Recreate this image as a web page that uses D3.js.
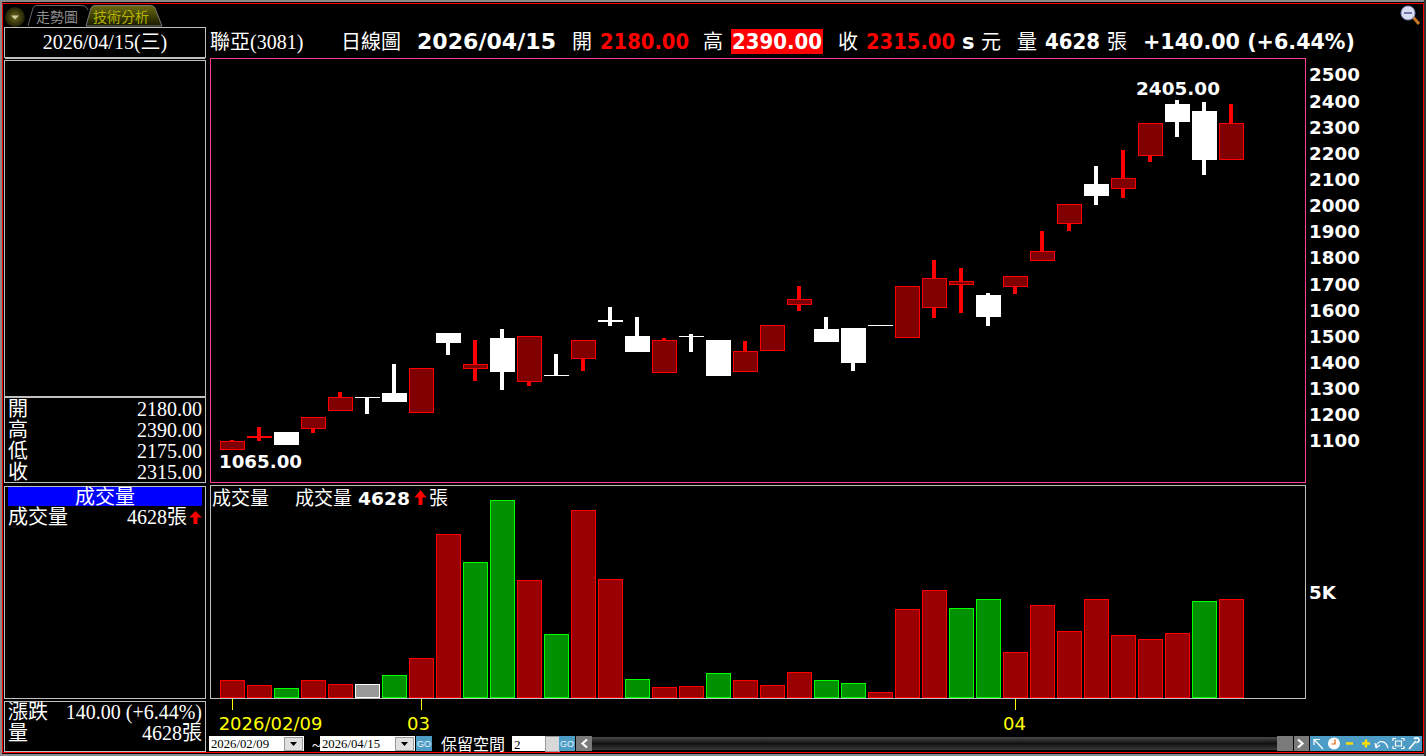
<!DOCTYPE html>
<html><head><meta charset="utf-8">
<style>
html,body{margin:0;padding:0;background:#000;overflow:hidden}
svg{display:block}
.serif{font-family:"Liberation Serif","Noto Sans CJK TC",serif;fill:#fff}
.bold{font-family:"DejaVu Sans","Noto Sans CJK TC",sans-serif;font-weight:bold;fill:#fff}
.sans{font-family:"Liberation Sans","Noto Sans CJK TC",sans-serif}
</style>
<script src="https://cdn.jsdelivr.net/npm/d3@7"></script>
</head><body><svg id="c" width="1426" height="756"></svg>
<script>
// ---- data ----
const opens  =[1070,1118,1134,1151,1220,1270,1283,1212,1513,1380,1494,1330,1351,1418,1563,1501,1365,1501,1486,1369,1449,1625,1528,1532,1543,1499,1614,1702,1658,1694,1793,1935,2082,2069,2195,2389,2362,2180];
const highs  =[1104,1153,1134,1190,1287,1270,1394,1378,1513,1486,1528,1500,1433,1485,1612,1574,1494,1509,1486,1482,1542,1693,1574,1532,1543,1692,1792,1762,1666,1730,1903,2005,2152,2213,2315,2405,2397,2390];
const lows   =[1065,1100,1085,1130,1220,1203,1249,1212,1429,1329,1295,1310,1350,1368,1540,1440,1365,1440,1348,1369,1449,1597,1479,1368,1542,1499,1570,1590,1540,1662,1793,1903,2003,2030,2167,2263,2117,2175];
const closes =[1099,1121,1085,1190,1267,1267,1249,1378,1475,1393,1364,1500,1350,1485,1556,1440,1485,1500,1348,1443,1542,1642,1479,1398,1542,1692,1722,1711,1574,1730,1825,2005,2037,2105,2315,2320,2175,2315];
const volumes=[791,554,412,791,602,602,1028,1833,7707,6381,9318,5528,2970,8844,5576,838,459,507,1123,791,554,1170,791,649,223,4154,5054,4202,4628,2117,4344,3112,4628,2923,2733,3017,4533,4628];
const priceTicks=[1100,1200,1300,1400,1500,1600,1700,1800,1900,2000,2100,2200,2300,2400,2500];
const volumeTicks=[5000];
const dateTickIndex=[0,7,29];
const dateTickLabels=["2026/02/09","03","04"];
const infoLabels=["開","高","低","收"];
const infoValues=["2180.00","2390.00","2175.00","2315.00"];

// ---- scales ----
const n=closes.length;
const x=d3.scaleLinear().domain([0,n-1]).range([232,1231]);
const yP=d3.scaleLinear().domain([1100,2500]).range([441,75]);
const yV=d3.scaleLinear().domain([0,5000]).range([697,591.45]);
const svg=d3.select("#c");
const crisp=s=>s.attr("shape-rendering","crispEdges");
const GREY="#c0c0c0",PINK="#ff3c96";

function rect(p,xx,yy,w,h,fill,stroke,sw){return crisp(p.append("rect").attr("x",xx).attr("y",yy).attr("width",w).attr("height",h).attr("fill",fill||"none").attr("stroke",stroke||"none").attr("stroke-width",sw||1));}
function txt(cls,xx,yy,s,size,opt={}){const t=svg.append("text").attr("class",cls).attr("x",xx).attr("y",yy).attr("font-size",size).attr("dominant-baseline","central").text(s);
 if(opt.anchor)t.attr("text-anchor",opt.anchor); if(opt.fill)t.style("fill",opt.fill); if(opt.len)t.attr("textLength",opt.len).attr("lengthAdjust","spacingAndGlyphs"); return t;}
function arrow(cx,top,h,w){svg.append("path").attr("d",`M${cx},${top}L${cx+w/2},${top+h*0.5}L${cx+2},${top+h*0.5}L${cx+2},${top+h}L${cx-2},${top+h}L${cx-2},${top+h*0.5}L${cx-w/2},${top+h*0.5}Z`).attr("fill","#f00");}
function icon(d,stroke,sw){svg.append("path").attr("d",d).attr("fill","none").attr("stroke",stroke).attr("stroke-width",sw||1.2);}

// ---- window frame ----
rect(svg,0,0,1426,756,"#000");
rect(svg,0,0,1426,2,"#8a8a8a");
rect(svg,0,0,2,756,"#8a8a8a");
rect(svg,0,754,1426,2,"#8a8a8a");
rect(svg,1424,0,2,756,"#333");
rect(svg,2.5,3.5,1420.5,749,"none","#f00",1);

// ---- tabs ----
const defs=svg.append("defs");
const g1=defs.append("linearGradient").attr("id","oliveTab").attr("x1",0).attr("y1",0).attr("x2",0).attr("y2",1);
g1.append("stop").attr("offset",0).attr("stop-color","#6a6a10");g1.append("stop").attr("offset",1).attr("stop-color","#1a1a00");
const g2=defs.append("radialGradient").attr("id","ball");
g2.append("stop").attr("offset",0).attr("stop-color","#6c6a20");g2.append("stop").attr("offset",1).attr("stop-color","#201f04");
svg.append("circle").attr("cx",15).attr("cy",17).attr("r",10).attr("fill","url(#ball)");
svg.append("path").attr("d","M11,15.5h8l-4,4z").attr("fill","#cfcf9a");
svg.append("path").attr("d","M28,26L33,8Q34,5.5 37,5.5L82,5.5Q85,5.5 87,8L88,10").attr("fill","#000").attr("stroke","#666");
svg.append("path").attr("d","M86,26L91,8Q92,5.5 95,5.5L150,5.5Q154,5.5 155,8L162,26Z").attr("fill","url(#oliveTab)").attr("stroke","#777");
txt("sans",36,17,"走勢圖",14,{fill:"#8c8c8c"});
txt("sans",93,17,"技術分析",14,{fill:"#b4b400"});

// ---- left panels ----
rect(svg,4.5,27.5,200.5,30,"none",GREY);
rect(svg,5,57,200,2,GREY);
rect(svg,4.5,60.5,200.5,336.5,"none",GREY);
rect(svg,5,396,200,2,GREY);
rect(svg,4.5,397.5,200.5,85,"none",GREY);
rect(svg,4.5,486.5,200.5,212,"none",GREY);
rect(svg,4.5,701.5,200.5,49.5,"none",GREY);
txt("serif",105,42,"2026/04/15(三)",20,{anchor:"middle"});
infoLabels.forEach((l,i)=>{const yy=409+i*21;txt("serif",8,yy,l,20);txt("serif",202,yy,infoValues[i],20,{anchor:"end"});});
rect(svg,8,487,194,19,"#0000ff");
txt("serif",105,497,"成交量",20,{anchor:"middle"});
txt("serif",8,517,"成交量",20);
txt("serif",187,517,"4628張",20,{anchor:"end"});
arrow(195.5,511,13,13);
txt("serif",8,712,"漲跌",20);
txt("serif",202,712,"140.00 (+6.44%)",20,{anchor:"end"});
txt("serif",8,733,"量",20);
txt("serif",202,733,"4628張",20,{anchor:"end"});

// ---- header ----
txt("serif",210,42,"聯亞(3081)",20);
txt("serif",341,42,"日線圖",20);
txt("bold",417,42,"2026/04/15",21,{len:139});
txt("serif",572,42,"開",20);
txt("bold",600,42,"2180.00",21,{len:89,fill:"#f00"});
txt("serif",703,42,"高",20);
rect(svg,731,29,92,25,"#f00");
txt("bold",732,42,"2390.00",21,{len:90});
txt("serif",838,42,"收",20);
txt("bold",866,42,"2315.00",21,{len:89,fill:"#f00"});
txt("bold",962,42,"s",21);
txt("serif",981,42,"元",20);
txt("serif",1017,42,"量",20);
txt("bold",1045,42,"4628",21,{len:55});
txt("serif",1107,42,"張",20);
txt("bold",1143,42,"+140.00 (+6.44%)",21,{len:212});

// ---- price panel ----
rect(svg,210.5,58.5,1095,424,"none",PINK);
const candles=svg.append("g");
d3.range(n).forEach(i=>{
 const isUp=closes[i]>opens[i]+1;
 const col=isUp?"#f00":"#fff";
 const top=Math.round(yP(Math.max(opens[i],closes[i])));
 const raw=yP(Math.min(opens[i],closes[i]));
 const bot=(raw-top<3)?Math.ceil(raw):Math.round(raw);
 const cx=Math.round(x(i));
 rect(candles,cx-2,Math.round(yP(highs[i])),4,Math.max(0,Math.round(yP(lows[i]))-Math.round(yP(highs[i]))),col);
 if(isUp) rect(candles,cx-11.5,top+.5,24,Math.max(1,bot-top),"#800000","#f00",1);
 else rect(candles,cx-12,top,25,Math.max(1,bot-top),"#fff");
});
const axP=svg.append("g").attr("transform","translate(1305,0)").call(d3.axisRight(yP).tickValues(priceTicks).tickSize(0).tickPadding(4).tickFormat(d3.format("d")));
axP.select(".domain").remove();
axP.selectAll("text").attr("class","bold").attr("font-size",18.3).attr("font-family",null);
txt("bold",1136,88,d3.max(highs).toFixed(2),18,{len:84});
txt("bold",219,461,d3.min(lows).toFixed(2),18,{len:83});

// ---- volume panel ----
rect(svg,210.5,485.5,1095,212.5,"none",GREY);
const volCol=i=>{const p=i?closes[i-1]:-1,c=closes[i];return c>p?["#990000","#f00"]:c<p?["#009000","#00ff00"]:["#999999","#fff"];};
const vols=svg.append("g");
d3.range(n).forEach(i=>{const c=volCol(i),cx=Math.round(x(i)),t=Math.round(yV(volumes[i]));
 rect(vols,cx-11.5,t+.5,24,697-t-.5,c[0],c[1],1);});
const axV=svg.append("g").attr("transform","translate(1305,0)").call(d3.axisRight(yV).tickValues(volumeTicks).tickSize(0).tickPadding(4).tickFormat(d=>d/1000+"K"));
axV.select(".domain").remove();
axV.selectAll("text").attr("class","bold").attr("font-size",18.3).attr("font-family",null).attr("dy","0.4em");
txt("serif",212,498,"成交量",19);
txt("serif",295,498,"成交量",19);
txt("bold",358,498,"4628",18,{len:52});
arrow(420.5,490,15,12);
txt("serif",429,498,"張",19);

// ---- date axis ----
const axX=svg.append("g").attr("transform","translate(0,699)").call(d3.axisBottom(x).tickValues(dateTickIndex).tickSize(11).tickPadding(0).tickFormat((d,i)=>dateTickLabels[i]));
axX.select(".domain").remove();
axX.selectAll("line").attr("stroke","#ff0").attr("shape-rendering","crispEdges").attr("x1",0).attr("x2",0);
axX.selectAll("text").attr("font-size",18).attr("font-family","'DejaVu Sans',sans-serif").attr("fill","#ff0").attr("dy","0.85em")
   .attr("y",16).attr("dx",(d,i)=>[38,-3,-1][i]);

// ---- bottom controls ----
function dateBox(x0,s){rect(svg,x0,736,95,15,"#fff");
 txt("serif",x0+2,744,s,12,{len:58,fill:"#000"});
 rect(svg,x0+75,737,18,13,"#e0e0e0","#9a9a9a");
 svg.append("path").attr("d",`M${x0+81},742h7l-3.5,4z`).attr("fill","#000");}
function go(x0){rect(svg,x0,736,16,15,"#4d9cc6");txt("sans",x0+8,744,"GO",9,{anchor:"middle",fill:"#e8f4fa"});}
dateBox(209,"2026/02/09");
txt("serif",312,745,"~",17);
dateBox(320,"2026/04/15");
go(416);
txt("serif",441,744,"保留空間",16);
rect(svg,512,736,33,15,"#fff");
txt("serif",514,744,"2",13,{fill:"#000"});
rect(svg,545,736,14,15,"#d8d8d8","#999");
go(559);
rect(svg,576,736,16,15,"#7a7a7a");
icon("M587,739.5L582.5,743.5L587,747.5","#fff",2.2);
const g3=defs.append("linearGradient").attr("id","bar").attr("x1",0).attr("y1",0).attr("x2",0).attr("y2",1);
g3.append("stop").attr("offset",0).attr("stop-color","#4a4a4a");g3.append("stop").attr("offset",.5).attr("stop-color","#111");g3.append("stop").attr("offset",1).attr("stop-color","#3a3a3a");
rect(svg,592,737,685,13,"url(#bar)");
rect(svg,1277,736,16,15,"#7a7a7a");
rect(svg,1294,736,15,15,"#7a7a7a");
icon("M1298,739.5L1302.5,743.5L1298,747.5","#fff",2.2);
// toolbar buttons
d3.range(7).forEach(i=>rect(svg,1310+i*16,736,15.5,15,"#4d9cc6"));
icon("M1323,749L1314,739.5M1314,745V739.5H1320","#fff");
svg.append("circle").attr("cx",1334).attr("cy",743.5).attr("r",6).attr("fill","#fff");
icon("M1335,739.5V744H1331.5","#e06000",1.2);
icon("M1346,743.5H1353","#ffe000",2.4);
icon("M1362,743.5H1370M1366,739.5V747.5","#ffe000",2.4);
icon("M1376,748C1376,741 1385,738 1388,748M1376,748L1375,743M1376,748L1380,745","#fff");
icon("M1393,741V738.5H1396M1401,738.5H1404V741M1404,746V748.5H1401M1396,748.5H1393V746M1395.5,741H1401.5V746H1395.5Z","#fff");
icon("M1409,749L1416,741M1414,739C1416,737 1420,738 1419,741L1416.5,743","#fff",1.6);

// ---- magnifier ----
svg.append("line").attr("x1",1413).attr("y1",17).attr("x2",1419).attr("y2",24).attr("stroke","#c87820").attr("stroke-width",3);
svg.append("circle").attr("cx",1408).attr("cy",13).attr("r",7).attr("fill","#d8ddf0").attr("stroke","#8890c8");
svg.append("rect").attr("x",1404).attr("y",12).attr("width",8).attr("height",2).attr("fill","#7078a8");
</script></body></html>
